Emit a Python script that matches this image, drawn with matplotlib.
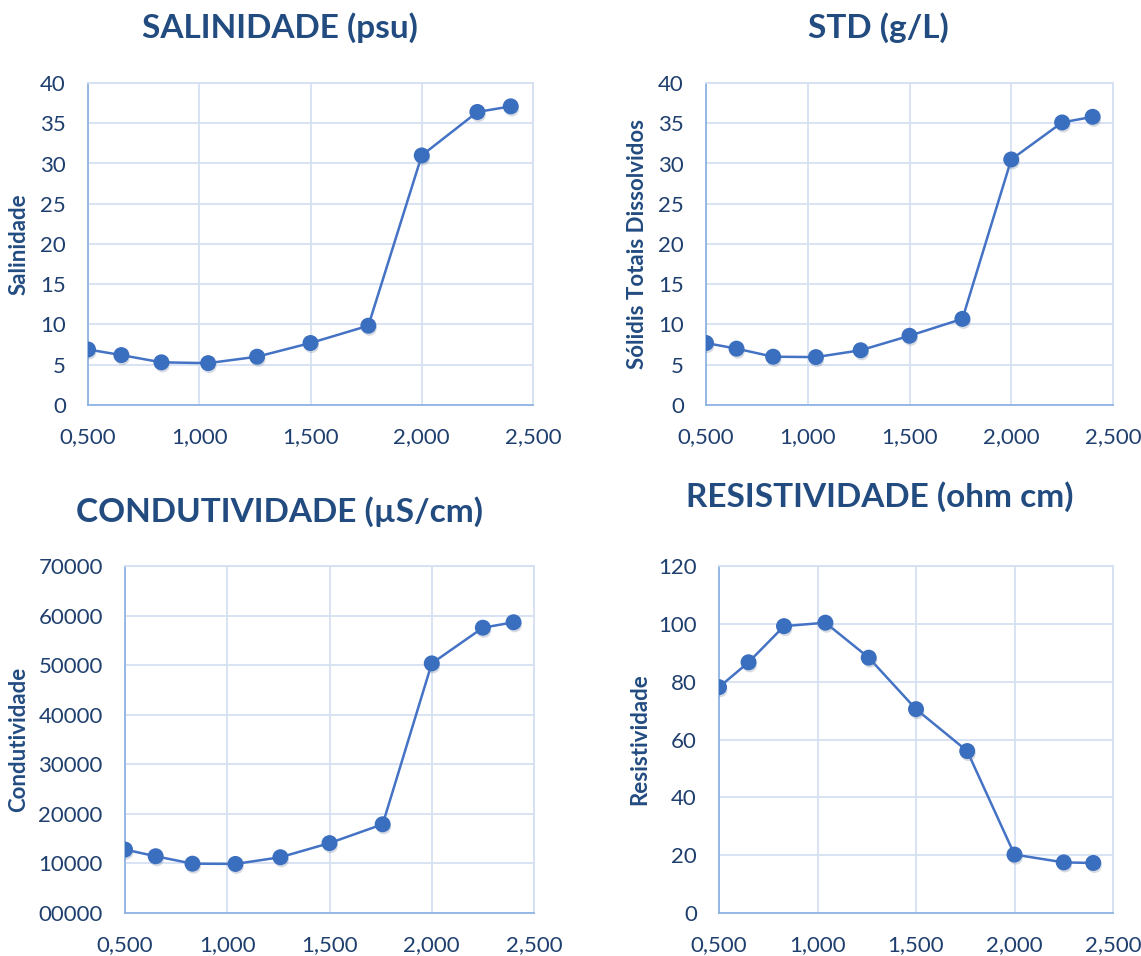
import matplotlib
matplotlib.use("Agg")
import matplotlib.pyplot as plt
import matplotlib.patheffects as pe
import matplotlib.transforms as mtransforms
from matplotlib.ticker import FuncFormatter, MultipleLocator

plt.rcParams['font.family'] = ['Lato', 'DejaVu Sans']

# profundidade / amostras (eixo x)
x = [0.5, 0.65, 0.83, 1.04, 1.26, 1.5, 1.76, 2.0, 2.25, 2.4]

salinidade = [6.9, 6.2, 5.3, 5.2, 6.0, 7.7, 9.85, 31.0, 36.4, 37.1]
std = [7.7, 7.0, 6.0, 5.95, 6.8, 8.6, 10.7, 30.5, 35.1, 35.8]
condutividade = [12800, 11450, 9950, 9900, 11250, 14100, 17900, 50350, 57550, 58650]
resistividade = [78.1, 86.7, 99.2, 100.4, 88.3, 70.5, 56.0, 20.2, 17.5, 17.3]

titulos = ['SALINIDADE (psu)', 'STD (g/L)', 'CONDUTIVIDADE (µS/cm)', 'RESISTIVIDADE (ohm cm)']
rotulos_y = ['Salinidade', 'Sólidis Totais Dissolvidos', 'Condutividade', 'Resistividade']
x_ticks = [0.5, 1.0, 1.5, 2.0, 2.5]

azul_linha = '#4472C4'
azul_marca = '#3A6EBE'
azul_texto = '#1F3F6E'
azul_titulo = '#224B80'
grade = '#D5E1F2'
eixo = '#8DB3E2'

W, H = 1141, 956
fig = plt.figure(figsize=(W / 100, H / 100), dpi=100)

# posições em pixels: esquerda, direita, topo, base
caixas = [
    (88, 533, 83, 405),
    (706, 1113, 83, 405),
    (125, 534, 566, 913),
    (719, 1113, 566, 913),
]
series = [salinidade, std, condutividade, resistividade]
limites_y = [(0, 40, 5), (0, 40, 5), (0, 70000, 10000), (0, 120, 20)]
titulo_pos = [(280, 28), (878, 28), (280, 512), (880, 497)]
rotulo_x = [19, 638, 19, 640]


def fmt_x(v, pos):
    return f'{v:.3f}'.replace('.', ',')


def fmt_cond(v, pos):
    return f'{int(round(v)):05d}'


for i in range(4):
    l, r, t, b = caixas[i]
    ax = fig.add_axes([l / W, 1 - b / H, (r - l) / W, (b - t) / H])
    ax.plot(x, series[i], color=azul_linha, lw=1.8, zorder=3)
    ax.plot(x, series[i], 'o', ms=10.5, color=azul_marca, mec=azul_marca, zorder=4,
            path_effects=[pe.SimplePatchShadow(offset=(0.8, -2), shadow_rgbFace='#7a8aa3',
                                               alpha=0.3), pe.Normal()])
    lo, hi, step = limites_y[i]
    ax.set_ylim(lo, hi)
    ax.yaxis.set_major_locator(MultipleLocator(step))
    ax.set_xlim(0.5, 2.5)
    ax.set_xticks(x_ticks)
    ax.xaxis.set_major_formatter(FuncFormatter(fmt_x))
    if i == 2:
        ax.yaxis.set_major_formatter(FuncFormatter(fmt_cond))
    ax.grid(True, color=grade, lw=1.3, zorder=0)
    ax.set_axisbelow(True)
    for lado in ['top', 'right']:
        ax.spines[lado].set_color(grade)
        ax.spines[lado].set_linewidth(1.3)
    for lado in ['left', 'bottom']:
        ax.spines[lado].set_color(eixo)
        ax.spines[lado].set_linewidth(1.3)
    ax.tick_params(length=0, labelsize=16, labelcolor=azul_texto)
    ax.tick_params(axis='x', pad=16)
    ax.tick_params(axis='y', pad=16)

    # rótulo do eixo y posicionado em pixels da figura
    fig.text(rotulo_x[i] / W, 0.5, rotulos_y[i], rotation=90, ha='center', va='center',
             fontsize=16, fontweight='bold', color=azul_titulo,
             transform=mtransforms.blended_transform_factory(fig.transFigure, ax.transAxes))

    tx, ty = titulo_pos[i]
    fig.text(tx / W, 1 - ty / H, titulos[i], ha='center', va='center',
             fontsize=24, fontweight='bold', color=azul_titulo)

fig.savefig('out.png', dpi=100)
